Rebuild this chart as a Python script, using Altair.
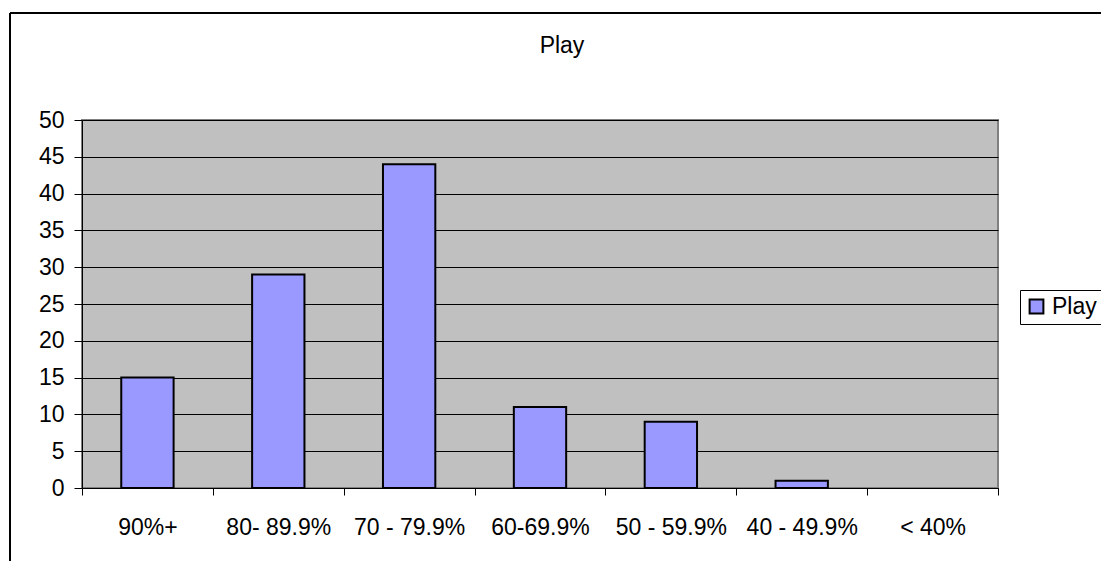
import altair as alt
import pandas as pd

# Score bands and the number of results in each
bands = ["90%+", "80- 89.9%", "70 - 79.9%", "60-69.9%", "50 - 59.9%", "40 - 49.9%", "< 40%"]
counts = [15, 29, 44, 11, 9, 1, 0]
series = ["Play"] * len(bands)

df = pd.DataFrame({"band": bands, "count": counts, "series": series})

FONT = "Liberation Sans"
SIZE = 23

bars = alt.Chart(df).mark_bar(
    stroke="black", strokeWidth=2, width=alt.RelativeBandSize(0.4)
).encode(
    x=alt.X(
        "band:N",
        sort=bands,
        title=None,
        scale=alt.Scale(paddingInner=0, paddingOuter=0),
        axis=alt.Axis(
            labelAngle=0,
            tickBand="extent",
            tickSize=7,
            tickColor="black",
            domainColor="black",
            labelPadding=21,
            labelFontSize=SIZE,
            labelFont=FONT,
            labelColor="black",
            grid=False,
        ),
    ),
    y=alt.Y(
        "count:Q",
        title=None,
        scale=alt.Scale(domain=[0, 50], nice=False),
        axis=alt.Axis(
            values=list(range(0, 51, 5)),
            tickSize=8,
            tickColor="black",
            domainColor="black",
            grid=True,
            gridColor="black",
            gridOpacity=1,
            gridWidth=1,
            labelPadding=10,
            labelFontSize=SIZE,
            labelFont=FONT,
            labelColor="black",
        ),
    ),
    color=alt.Color(
        "series:N",
        scale=alt.Scale(domain=["Play"], range=["#9999FF"]),
        legend=alt.Legend(
            title=None,
            orient="none",
            legendX=938,
            legendY=170,
            symbolType="square",
            symbolSize=190,
            symbolStrokeColor="black",
            symbolStrokeWidth=2,
            symbolOpacity=1,
            labelFontSize=SIZE,
            labelFont=FONT,
            labelColor="black",
            labelOffset=4,
            strokeColor="black",
            fillColor="white",
            padding=5,
        ),
    ),
    # an empty band draws no outline
    strokeOpacity=alt.condition("datum.count == 0", alt.value(0), alt.value(1)),
)

title = alt.Chart(pd.DataFrame({"t": ["Play"]})).mark_text(
    fontSize=SIZE, font=FONT, color="black", align="center", baseline="middle"
).encode(x=alt.value(480), y=alt.value(-74), text="t:N")

frame_top = alt.Chart(pd.DataFrame({"a": [0]})).mark_rule(color="black", strokeWidth=2).encode(
    x=alt.value(-72), x2=alt.value(1030), y=alt.value(-107)
)
frame_left = alt.Chart(pd.DataFrame({"a": [0]})).mark_rule(color="black", strokeWidth=2).encode(
    x=alt.value(-72), y=alt.value(-107), y2=alt.value(450)
)

chart = (
    alt.layer(bars, title, frame_top, frame_left)
    .properties(
        width=916,
        height=368,
        autosize=alt.AutoSizeParams(type="none"),
        padding={"left": 82, "top": 120, "right": 103, "bottom": 73},
        background="white",
    )
    .configure_view(fill="#C0C0C0", stroke="#808080", strokeWidth=2)
)

chart.save("out.html", embed_options={"renderer": "svg", "actions": False})
